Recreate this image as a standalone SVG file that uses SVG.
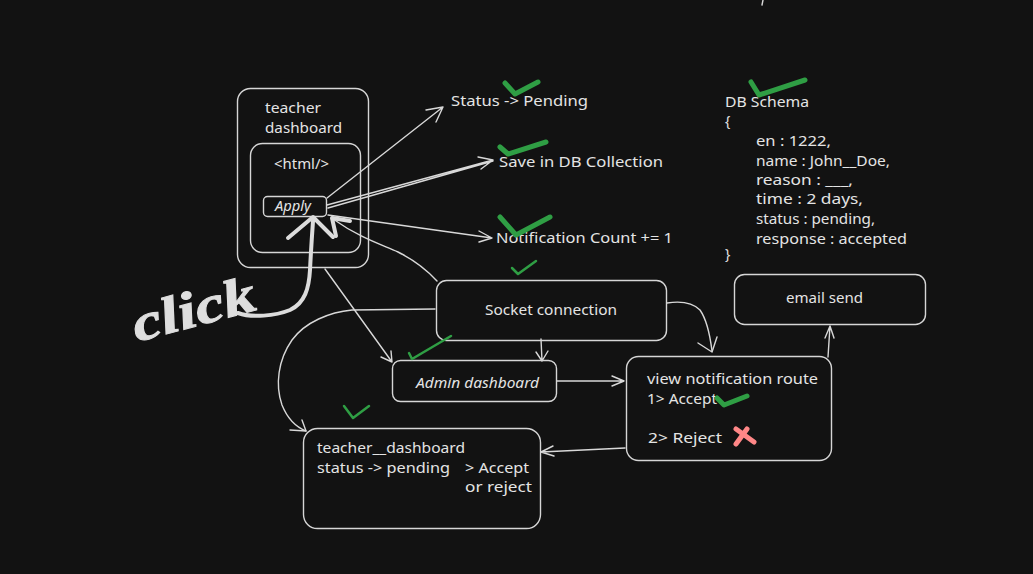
<svg xmlns="http://www.w3.org/2000/svg" width="1033" height="574" viewBox="0 0 1033 574">
<style>
.box{fill:none;stroke:#d6d6d6;stroke-width:1.4}
.t{fill:#e4e4e4;font-family:"Noto Sans","DejaVu Sans",sans-serif;font-size:14px}
.c{fill:none;stroke:#d8d8d8;stroke-width:1.4;stroke-linecap:round;stroke-linejoin:round}
.thick{fill:none;stroke:#dcdcdc;stroke-width:4;stroke-linecap:round;stroke-linejoin:round}
.ok{fill:none;stroke:#2f9e44;stroke-linecap:round;stroke-linejoin:round}
.no{fill:none;stroke:#ff8787;stroke-width:5;stroke-linecap:round}
</style>
<rect width="1033" height="574" fill="#121212"/>
<line x1="763" y1="0" x2="762" y2="5" class="c" stroke-width="2"/>

<g id="teacher-dashboard-outer">
<rect x="237.5" y="88.5" width="131" height="179" rx="13" class="box"/>
<text x="265" y="113" class="t" textLength="56" lengthAdjust="spacingAndGlyphs">teacher</text>
<text x="265" y="133" class="t" textLength="77" lengthAdjust="spacingAndGlyphs">dashboard</text>
</g>
<g id="html-box">
<rect x="250.5" y="143.5" width="110" height="109" rx="12" class="box"/>
<text x="274" y="169" class="t" textLength="55" lengthAdjust="spacingAndGlyphs">&lt;html/&gt;</text>
</g>
<g id="apply-button">
<rect x="263.5" y="196.5" width="63" height="20" rx="4" class="box"/>
<text x="275" y="211" class="t" font-style="italic" textLength="36" lengthAdjust="spacingAndGlyphs">Apply</text>
</g>
<g id="status-pending">
<text x="451" y="106" class="t" textLength="137" lengthAdjust="spacingAndGlyphs">Status -&gt; Pending</text>
</g>
<g id="save-db">
<text x="499" y="167" class="t" textLength="164" lengthAdjust="spacingAndGlyphs">Save in DB Collection</text>
</g>
<g id="notification-count">
<text x="496" y="243" class="t" textLength="177" lengthAdjust="spacingAndGlyphs">Notification Count += 1</text>
</g>
<g id="db-schema">
<text x="725" y="107" class="t" textLength="84" lengthAdjust="spacingAndGlyphs">DB Schema</text>
<text x="725" y="126" class="t">{</text>
<text x="756" y="146" class="t" textLength="75" lengthAdjust="spacingAndGlyphs">en : 1222,</text>
<text x="756" y="166" class="t" textLength="134" lengthAdjust="spacingAndGlyphs">name : John__Doe,</text>
<text x="756" y="185" class="t" textLength="97" lengthAdjust="spacingAndGlyphs">reason : ___,</text>
<text x="756" y="204" class="t" textLength="107" lengthAdjust="spacingAndGlyphs">time : 2 days,</text>
<text x="756" y="224" class="t" textLength="119" lengthAdjust="spacingAndGlyphs">status : pending,</text>
<text x="756" y="244" class="t" textLength="151" lengthAdjust="spacingAndGlyphs">response : accepted</text>
<text x="725" y="259" class="t">}</text>
</g>
<g id="socket-connection">
<rect x="436.5" y="280.5" width="230" height="60" rx="10" class="box"/>
<text x="485" y="315" class="t" textLength="132" lengthAdjust="spacingAndGlyphs">Socket connection</text>
</g>
<g id="admin-dashboard">
<rect x="392.5" y="360.5" width="164" height="41" rx="8" class="box"/>
<text x="416" y="388" class="t" font-style="italic" textLength="123" lengthAdjust="spacingAndGlyphs">Admin dashboard</text>
</g>
<g id="view-notification-route">
<rect x="626.5" y="356.5" width="205" height="104" rx="12" class="box"/>
<text x="647" y="384" class="t" textLength="171" lengthAdjust="spacingAndGlyphs">view notification route</text>
<text x="647" y="404" class="t" textLength="70" lengthAdjust="spacingAndGlyphs">1&gt; Accept</text>
<text x="648" y="443" class="t" textLength="74" lengthAdjust="spacingAndGlyphs">2&gt; Reject</text>
</g>
<g id="email-send">
<rect x="734.5" y="274.5" width="191" height="50" rx="10" class="box"/>
<text x="786" y="303" class="t" textLength="77" lengthAdjust="spacingAndGlyphs">email send</text>
</g>
<g id="teacher-dashboard-status">
<rect x="303.5" y="428.5" width="237" height="100" rx="14" class="box"/>
<text x="317" y="453" class="t" textLength="148" lengthAdjust="spacingAndGlyphs">teacher__dashboard</text>
<text x="317" y="473" class="t" textLength="133" lengthAdjust="spacingAndGlyphs">status -&gt; pending</text>
<text x="465" y="473" class="t" textLength="64" lengthAdjust="spacingAndGlyphs">&gt; Accept</text>
<text x="465" y="492" class="t" textLength="67" lengthAdjust="spacingAndGlyphs">or reject</text>
</g>
<g id="click-label">
<text x="0" y="0" transform="translate(137,342) rotate(-15)" fill="#dedede" stroke="#dedede" stroke-width="1" font-family="'Liberation Serif',serif" font-style="italic" font-weight="bold" font-size="52" textLength="126" lengthAdjust="spacingAndGlyphs">click</text>
</g>

<g id="connectors">
<path class="c" d="M327 198 L443 107 M426 110 L443 107 L436 122"/>
<path class="c" d="M327 205 L493 160 M328 208 L493 161 M478 157 L493 160 L481 169"/>
<path class="c" d="M328 215 L492 238 M479 231 L492 238 L479 242"/>
<path class="c" stroke-width="2.2" d="M437 281 C425 268 410 258 398 252 C380 244 360 238 333 219"/>
<path class="thick" stroke-width="3.5" d="M350 221 L332 218 L336 236"/>
<path class="thick" d="M238 313 C252 318 275 316 290 310 C305 303 309 288 310 270 C311 250 312 235 313 221"/>
<path class="thick" stroke-width="5" d="M288 238 L313 217 L333 237"/>
<path class="c" d="M325 269 L392 362 M381 357 L392 362 L391 351"/>
<path class="c" stroke-width="1.8" d="M435 309 L352 310 C330 312 305 322 292 340 C278 360 275 385 282 405 C288 420 296 427 306 431"/>
<path class="c" stroke-width="2.6" d="M290 430 L306 431 L302 420"/>
<path class="c" stroke-width="2.2" d="M541 339 L542 361 M536 352 L542 361 L548 351"/>
<path class="c" stroke-width="2.6" d="M667 303 C680 301 692 302 700 310 C707 320 710 335 712 351"/>
<path class="c" stroke-width="2.8" d="M698 343 L712 352 L717 337"/>
<path class="c" d="M557 381 L624 381 M612 376 L624 381 L612 386"/>
<path class="c" d="M828 357 L830 326 M825 338 L830 326 L834 338"/>
<path class="c" d="M625 448 L541 452 M553 446 L541 452 L554 456"/>
</g>

<g id="marks">
<path class="ok" stroke-width="5" d="M505 83 L515 94 L538 82"/>
<path class="ok" stroke-width="5" d="M500 147 L508 154 L546 142"/>
<path class="ok" stroke-width="5" d="M500 217 L516 235 L550 217"/>
<path class="ok" stroke-width="5" d="M751 82 L759 95 L805 80"/>
<path class="ok" stroke-width="2.5" d="M512 268 L518 274 L536 261"/>
<path class="ok" stroke-width="2.5" d="M409 353 L412 359 L451 336"/>
<path class="ok" stroke-width="2.5" d="M344 406 L353 418 L369 406"/>
<path class="ok" stroke-width="5" d="M717 398 L724 405 L747 396"/>
<path class="no" d="M736 429 L754 442 M747 429 L736 444"/>
</g>
</svg>
